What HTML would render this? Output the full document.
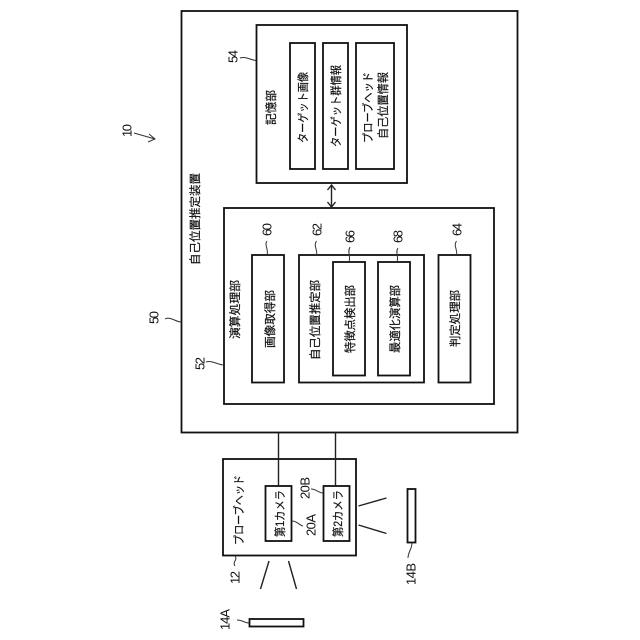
<!DOCTYPE html>
<html><head><meta charset="utf-8">
<style>
html,body{margin:0;padding:0;background:#fff;width:640px;height:640px;overflow:hidden}
svg{display:block}
text{font-family:"Liberation Sans","Noto Sans CJK JP",sans-serif;fill:#111}
.j{font-size:11.5px}
.j text{stroke:#111;stroke-width:.2}
.n{font-size:13px}
.b{fill:#fff;stroke:#111;stroke-width:1.8}
.l{fill:none;stroke:#222;stroke-width:1.4}
.c{fill:none;stroke:#333;stroke-width:1}
</style></head><body>
<svg width="640" height="640" viewBox="0 0 640 640" xmlns="http://www.w3.org/2000/svg">
<rect class="b" x="181.5" y="11" width="336" height="421.5"/>
<rect class="b" x="256.5" y="25" width="150.5" height="158"/>
<rect class="b" x="290" y="43" width="25" height="126"/>
<rect class="b" x="323" y="43" width="25" height="126"/>
<rect class="b" x="356" y="43" width="38" height="126"/>
<rect class="b" x="224" y="208" width="270" height="196"/>
<rect class="b" x="252" y="255" width="32" height="127.5"/>
<rect class="b" x="299" y="255" width="125" height="127.5"/>
<rect class="b" x="333" y="262" width="32" height="113.5"/>
<rect class="b" x="378" y="262" width="32" height="113.5"/>
<rect class="b" x="438.5" y="255" width="32" height="127.5"/>
<rect class="b" x="223" y="459" width="133" height="96.5"/>
<rect class="b" x="265.5" y="486" width="26" height="55"/>
<rect class="b" x="323.5" y="486" width="26" height="55"/>
<rect class="b" x="407.5" y="489" width="8" height="53.5"/>
<rect class="b" x="249.5" y="619" width="54" height="7.5"/>

<path class="l" d="M278.5 432.5V486M335.5 432.5V486"/>
<path class="l" d="M331.5 185V207M327.5 190L331.5 185L335.5 190M327.5 202L331.5 207L335.5 202"/>
<path class="l" d="M358.5 506L386.5 498M358.5 525L386.5 533.5M269 561L260.5 589M288.5 561L296.5 589"/>

<path class="c" d="M240 58C246 56 250 60 256 60.5"/>
<path class="c" d="M267 241C264 245 269 250 267 255"/>
<path class="c" d="M316.5 241C313 246 318 250 316.5 255"/>
<path class="c" d="M350 247C347 252 351 257 349 262"/>
<path class="c" d="M398 248C395 252 399 257 397 262"/>
<path class="c" d="M456.5 241C453 246 458 250 456.5 255"/>
<path class="c" d="M206 362C212 360 218 365 224 365"/>
<path class="c" d="M165 319C170 316 176 322 181 322"/>
<path class="c" d="M134 133L155 139M149 134L155 139L148 142"/>
<path class="c" d="M311 489C316 489 319 493 323 493"/>
<path class="c" d="M292 521C297 521 299 525 303 526"/>
<path class="c" d="M235 566C232 562 238 560 235 556"/>
<path class="c" d="M237 620C242 620 245 623 249 623"/>
<path class="c" d="M408 558C408 552 412 549 412 543"/>

<g class="j">
<text transform="translate(199,265) rotate(-90)" textLength="92" lengthAdjust="spacingAndGlyphs">自己位置推定装置</text>
<text transform="translate(275,125) rotate(-90)" textLength="35" lengthAdjust="spacingAndGlyphs">記憶部</text>
<text transform="translate(307,143) rotate(-90)" textLength="71" lengthAdjust="spacingAndGlyphs">ターゲット画像</text>
<text transform="translate(340,147) rotate(-90)" textLength="82" lengthAdjust="spacingAndGlyphs">ターゲット群情報</text>
<text transform="translate(372,143) rotate(-90)" textLength="71" lengthAdjust="spacingAndGlyphs">プローブヘッド</text>
<text transform="translate(387,139) rotate(-90)" textLength="67" lengthAdjust="spacingAndGlyphs">自己位置情報</text>
<text transform="translate(239,339) rotate(-90)" textLength="59" lengthAdjust="spacingAndGlyphs">演算処理部</text>
<text transform="translate(274,348) rotate(-90)" textLength="58" lengthAdjust="spacingAndGlyphs">画像取得部</text>
<text transform="translate(319,360) rotate(-90)" textLength="80" lengthAdjust="spacingAndGlyphs">自己位置推定部</text>
<text transform="translate(354,353) rotate(-90)" textLength="68" lengthAdjust="spacingAndGlyphs">特徴点検出部</text>
<text transform="translate(399,353) rotate(-90)" textLength="68" lengthAdjust="spacingAndGlyphs">最適化演算部</text>
<text transform="translate(459,347) rotate(-90)" textLength="57" lengthAdjust="spacingAndGlyphs">判定処理部</text>
<text transform="translate(243,545) rotate(-90)" textLength="70" lengthAdjust="spacingAndGlyphs">プローブヘッド</text>
<text transform="translate(284,537) rotate(-90)" textLength="47" lengthAdjust="spacingAndGlyphs">第1カメラ</text>
<text transform="translate(342,537) rotate(-90)" textLength="47" lengthAdjust="spacingAndGlyphs">第2カメラ</text>
</g>
<g class="n">
<text transform="translate(237.5,63) rotate(-90)" textLength="13">54</text>
<text transform="translate(271.5,236) rotate(-90)" textLength="13">60</text>
<text transform="translate(321.5,236) rotate(-90)" textLength="13">62</text>
<text transform="translate(354.5,243) rotate(-90)" textLength="13">66</text>
<text transform="translate(402.5,243) rotate(-90)" textLength="13">68</text>
<text transform="translate(461.5,236) rotate(-90)" textLength="13">64</text>
<text transform="translate(204.5,370) rotate(-90)" textLength="13">52</text>
<text transform="translate(158.5,324) rotate(-90)" textLength="13">50</text>
<text transform="translate(131.5,137) rotate(-90)" textLength="13">10</text>
<text transform="translate(309.5,499) rotate(-90)" textLength="22">20B</text>
<text transform="translate(315.5,536) rotate(-90)" textLength="22">20A</text>
<text transform="translate(239.5,584) rotate(-90)" textLength="13">12</text>
<text transform="translate(229.5,630) rotate(-90)" textLength="21">14A</text>
<text transform="translate(415.5,585) rotate(-90)" textLength="22">14B</text>
</g>
</svg>
</body></html>
